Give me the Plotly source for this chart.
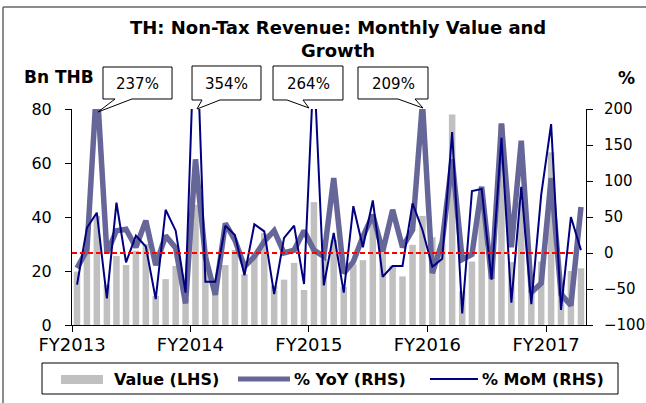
import pandas as pd
import plotly.graph_objects as go

# monthly data, Oct 2012 .. Jan 2017 (Thai fiscal year starts in October)
months = pd.date_range("2012-10-01", periods=52, freq="MS")

value_lhs = [19.8, 26.6, 40.4, 15.0, 25.6, 22.2, 27.5, 30.0, 10.8, 17.0, 21.9, 10.0,
             44.5, 26.8, 16.1, 22.2, 27.8, 18.8, 26.3, 34.0, 14.5, 16.8, 23.0, 13.0,
             45.5, 24.5, 31.5, 14.0, 22.5, 24.0, 40.0, 26.8, 22.0, 18.0, 29.7, 40.4,
             32.5, 30.3, 78.0, 12.5, 23.5, 45.5, 28.6, 74.4, 23.3, 45.5, 13.2, 23.5,
             64.0, 13.4, 20.0, 21.0]

yoy_rhs = [-21, 4, 237, 0, 31, 33, 8, 45, -17, 24, 7, -70,
           130, -5, -58, 41, 18, -19, -5, 16, 31, 0, 4, 31,
           4, -5, 104, -28, -12, 23, 53, 2, 60, 8, 32, 209,
           -28, 16, 130, -9, -2, 92, -36, 180, 8, 156, -55, -42,
           104, -57, -73, 64]

mom_rhs = [-44, 35, 56, -63, 70, -13, 24, 9, -64, 60, 31, -55,
           354, -40, -40, 38, 25, -31, 40, 30, -57, 21, 38, -43,
           264, -45, 28, -55, 65, 8, 73, -33, -18, -18, 69, 32,
           -19, -8, 168, -84, 86, 89, -37, 160, -69, 92, -71, 81,
           179, -79, 50, 4]

fy_ticks = ["2012-10-01", "2013-10-01", "2014-10-01", "2015-10-01", "2016-10-01"]
fy_labels = ["FY2013", "FY2014", "FY2015", "FY2016", "FY2017"]

callout_text = ["237%", "354%", "264%", "209%"]

FONT = "DejaVu Sans"

fig = go.Figure()
fig.add_trace(go.Bar(x=months, y=value_lhs, xperiod="M1", xperiodalignment="middle",
                     marker=dict(color="#C0C0C0", line_width=0), name="Value (LHS)"))
fig.add_trace(go.Scatter(x=months, y=yoy_rhs, xperiod="M1", xperiodalignment="middle",
                         mode="lines", line=dict(color="#666699", width=5.5),
                         yaxis="y2", name="% YoY (RHS)"))
fig.add_trace(go.Scatter(x=months, y=mom_rhs, xperiod="M1", xperiodalignment="middle",
                         mode="lines", line=dict(color="#000080", width=2),
                         yaxis="y2", name="% MoM (RHS)"))

# zero line on the right axis
fig.add_shape(type="line", xref="x", yref="y2", x0=months[0], x1=months[-1], y0=0, y1=0,
              line=dict(color="#FF0000", width=2.2, dash="5px,3px"))

L, R, T, B = 72, 586, 109, 325


def pp(x, y):
    # pixel -> paper
    return (x - L) / (R - L), (B - y) / (B - T)


def path(points):
    pts = [pp(x, y) for x, y in points]
    return "M " + " L ".join(f"{a:.4f},{b:.4f}" for a, b in pts) + " Z"


def label(x, y, txt, size, anchor="center"):
    ax, ay = pp(x, y)
    fig.add_annotation(x=ax, y=ay, xref="paper", yref="paper", text=txt, showarrow=False,
                       xanchor=anchor, yanchor="middle",
                       font=dict(family=FONT, size=size, color="black"))


# callout bubbles: box (x0, x1, y0, y1), tail base (b0, b1), tip
bubbles = [
    ((103, 172, 67, 99), (115, 132), (98, 112)),
    ((192, 261, 66, 100), (202, 220), (197, 109)),
    ((273, 343, 66, 100), (287, 303), (309, 108)),
    ((358, 428, 67, 99), (398, 415), (423, 108)),
]
for (box, base, tip), txt in zip(bubbles, callout_text):
    x0, x1, y0, y1 = box
    pts = [(x0, y0), (x1, y0), (x1, y1), (base[1], y1), tip, (base[0], y1), (x0, y1)]
    fig.add_shape(type="path", xref="paper", yref="paper", path=path(pts),
                  fillcolor="white", line=dict(color="black", width=1))
    label((x0 + x1) / 2, (y0 + y1) / 2 + 1, txt, 15)

# outer chart frame (top and left edges visible)
for a, b in [((3, 7), (646, 7)), ((3, 7), (3, 403))]:
    xa, ya = pp(*a)
    xb, yb = pp(*b)
    fig.add_shape(type="line", xref="paper", yref="paper", x0=xa, y0=ya, x1=xb, y1=yb,
                  line=dict(color="#666666", width=1.5))

# title and axis captions
label(338, 39, "<b>TH: Non-Tax Revenue: Monthly Value and<br>Growth</b>", 18)
label(22, 77, "<b>Bn THB</b>", 17, "left")
label(626, 78, "<b>%</b>", 17)

# hand-made legend
lx0, ly0 = pp(42, 363)
lx1, ly1 = pp(618, 394)
fig.add_shape(type="rect", xref="paper", yref="paper", x0=lx0, y0=ly0, x1=lx1, y1=ly1,
              line=dict(color="black", width=1), fillcolor="white")
sx0, sy0 = pp(61, 375)
sx1, sy1 = pp(103, 384)
fig.add_shape(type="rect", xref="paper", yref="paper", x0=sx0, y0=sy0, x1=sx1, y1=sy1,
              line_width=0, fillcolor="#C0C0C0")
for (xa, xb), col, w in [((238, 290), "#666699", 5), ((430, 478), "#000080", 2)]:
    a0, yy = pp(xa, 379)
    a1, _ = pp(xb, 379)
    fig.add_shape(type="line", xref="paper", yref="paper", x0=a0, x1=a1, y0=yy, y1=yy,
                  line=dict(color=col, width=w))
for xpos, txt in [(112, "Value (LHS)"), (292, "% YoY (RHS)"), (480, "% MoM (RHS)")]:
    label(xpos, 379, f"<b>{txt}</b>", 16, "left")

fig.update_layout(
    width=646, height=403, autosize=False,
    margin=dict(l=L, r=646 - R, t=T, b=403 - B, autoexpand=False),
    paper_bgcolor="white", plot_bgcolor="white",
    showlegend=False, bargap=0.32,
    font=dict(family=FONT, color="black"),
    xaxis=dict(type="date", range=["2012-10-01", "2017-02-01"],
               tickvals=fy_ticks, ticktext=fy_labels, automargin=False,
               ticks="outside", ticklen=6, tickcolor="black",
               showline=True, linecolor="black", linewidth=1, showgrid=False,
               tickfont=dict(size=18), ticklabelstandoff=-3),
    yaxis=dict(range=[0, 80], dtick=20, ticks="outside", ticklen=6, tickcolor="black",
               showline=True, linecolor="black", showgrid=False, zeroline=False,
               automargin=False, tickfont=dict(size=16), ticklabelstandoff=10),
    yaxis2=dict(range=[-100, 200], dtick=50, overlaying="y", side="right",
                ticks="outside", ticklen=6, tickcolor="black",
                showline=True, linecolor="black", showgrid=False, zeroline=False,
                automargin=False, tickfont=dict(size=15), ticklabelstandoff=8),
)

# the page body has a default 8px margin; drop it (and any scrollbar) so the figure
# sits exactly at the top-left corner of the window
fig.write_html("out.html",
               config={"responsive": False, "displayModeBar": False},
               post_script="document.body.style.margin='0px';"
                           "document.body.style.overflow='hidden';")
